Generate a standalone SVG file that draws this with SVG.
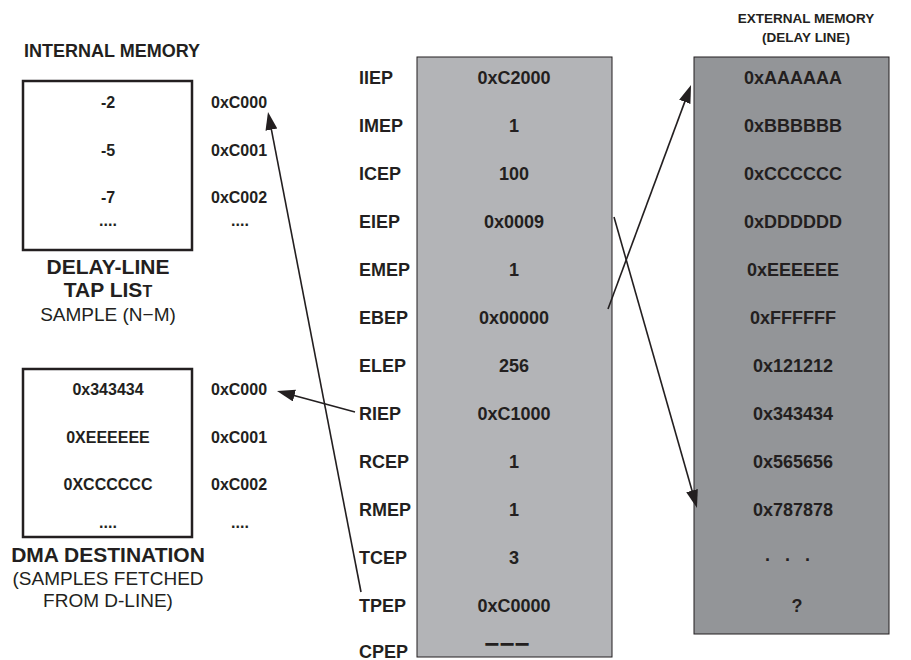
<svg xmlns="http://www.w3.org/2000/svg" width="911" height="660" viewBox="0 0 911 660">
<style>
text{font-family:"Liberation Sans",Arial,sans-serif;fill:#231f20}
.b{font-weight:bold}
.reg{font-size:18px;font-weight:bold}
.val{font-size:16px;font-weight:bold}
.mid{text-anchor:middle}
.wbox{fill:#fff;stroke:#231f20;stroke-width:2.5}
.gbox1{fill:#b3b4b7;stroke:#231f20;stroke-width:1}
.gbox2{fill:#939598;stroke:#231f20;stroke-width:1}
.conn{fill:none;stroke:#231f20;stroke-width:1.6}
</style>
<defs>
<marker id="ah" markerUnits="userSpaceOnUse" markerWidth="20" markerHeight="14" refX="9" refY="6" orient="auto">
<path d="M0,0 L18,6 L0,12 z" fill="#231f20"/>
</marker>
</defs>

<g id="tap-list">
<text x="24" y="57" class="b" style="font-size:18px">INTERNAL MEMORY</text>
<rect class="wbox" x="23" y="81" width="169" height="169"/>
<text x="108" y="107.5" class="val mid">-2</text>
<text x="108" y="155.5" class="val mid">-5</text>
<text x="108" y="203" class="val mid">-7</text>
<text x="108" y="226" class="val mid">....</text>
<text x="211" y="107.5" class="val">0xC000</text>
<text x="211" y="155.5" class="val">0xC001</text>
<text x="211" y="203" class="val">0xC002</text>
<text x="240" y="226" class="val mid">....</text>
<text x="108" y="274" class="b mid" style="font-size:21px">DELAY-LINE</text>
<text x="108" y="297" class="b mid" style="font-size:21px">TAP LIS<tspan style="font-size:16px">T</tspan></text>
<text x="108" y="321" class="mid" style="font-size:19px">SAMPLE (N−M)</text>
</g>

<g id="dma-destination">
<rect class="wbox" x="23" y="369" width="169" height="168"/>
<text x="108" y="395" class="val mid">0x343434</text>
<text x="108" y="443" class="val mid">0XEEEEEE</text>
<text x="108" y="490" class="val mid">0XCCCCCC</text>
<text x="108" y="528" class="val mid">....</text>
<text x="211" y="395" class="val">0xC000</text>
<text x="211" y="443" class="val">0xC001</text>
<text x="211" y="490" class="val">0xC002</text>
<text x="240" y="528" class="val mid">....</text>
<text x="108" y="562" class="b mid" style="font-size:21px">DMA DESTINATION</text>
<text x="108" y="585" class="mid" style="font-size:19px">(SAMPLES FETCHED</text>
<text x="108" y="607" class="mid" style="font-size:19px">FROM D-LINE)</text>
</g>

<g id="tcb">
<rect class="gbox1" x="417" y="57" width="195" height="600"/>
<text x="359" y="83.5" class="reg">IIEP</text>
<text x="359" y="131.5" class="reg">IMEP</text>
<text x="359" y="179.5" class="reg">ICEP</text>
<text x="359" y="227.5" class="reg">EIEP</text>
<text x="359" y="275.5" class="reg">EMEP</text>
<text x="359" y="323.5" class="reg">EBEP</text>
<text x="359" y="371.5" class="reg">ELEP</text>
<text x="359" y="419.5" class="reg">RIEP</text>
<text x="359" y="467.5" class="reg">RCEP</text>
<text x="359" y="515.5" class="reg">RMEP</text>
<text x="359" y="563.5" class="reg">TCEP</text>
<text x="359" y="611.5" class="reg">TPEP</text>
<text x="359" y="657.5" class="reg">CPEP</text>
<text x="507" y="653" class="b mid" style="font-size:26px">−−−</text>
<text x="514" y="83.5" class="reg mid">0xC2000</text>
<text x="514" y="131.5" class="reg mid">1</text>
<text x="514" y="179.5" class="reg mid">100</text>
<text x="514" y="227.5" class="reg mid">0x0009</text>
<text x="514" y="275.5" class="reg mid">1</text>
<text x="514" y="323.5" class="reg mid">0x00000</text>
<text x="514" y="371.5" class="reg mid">256</text>
<text x="514" y="419.5" class="reg mid">0xC1000</text>
<text x="514" y="467.5" class="reg mid">1</text>
<text x="514" y="515.5" class="reg mid">1</text>
<text x="514" y="563.5" class="reg mid">3</text>
<text x="514" y="611.5" class="reg mid">0xC0000</text>
</g>

<g id="external-memory">
<text x="806" y="23" class="b mid" style="font-size:13.5px">EXTERNAL MEMORY</text>
<text x="806" y="42" class="b mid" style="font-size:13.5px">(DELAY LINE)</text>
<rect class="gbox2" x="694" y="57" width="195" height="577"/>
<text x="793" y="83.5" class="reg mid">0xAAAAAA</text>
<text x="793" y="131.5" class="reg mid">0xBBBBBB</text>
<text x="793" y="179.5" class="reg mid">0xCCCCCC</text>
<text x="793" y="227.5" class="reg mid">0xDDDDDD</text>
<text x="793" y="275.5" class="reg mid">0xEEEEEE</text>
<text x="793" y="323.5" class="reg mid">0xFFFFFF</text>
<text x="793" y="371.5" class="reg mid">0x121212</text>
<text x="793" y="419.5" class="reg mid">0x343434</text>
<text x="793" y="467.5" class="reg mid">0x565656</text>
<text x="793" y="515.5" class="reg mid">0x787878</text>
<text x="790" y="561" class="reg mid" style="letter-spacing:5px">. . .</text>
<text x="797" y="611.5" class="reg mid">?</text>
</g>

<g id="connectors">
<line class="conn" x1="361" y1="592" x2="269.7" y2="120.8" marker-end="url(#ah)"/>
<line class="conn" x1="355" y1="412" x2="285.7" y2="393.3" marker-end="url(#ah)"/>
<line class="conn" x1="608" y1="309" x2="687.9" y2="93.4" marker-end="url(#ah)"/>
<line class="conn" x1="614" y1="217" x2="694.5" y2="499.3" marker-end="url(#ah)"/>
</g>
</svg>
